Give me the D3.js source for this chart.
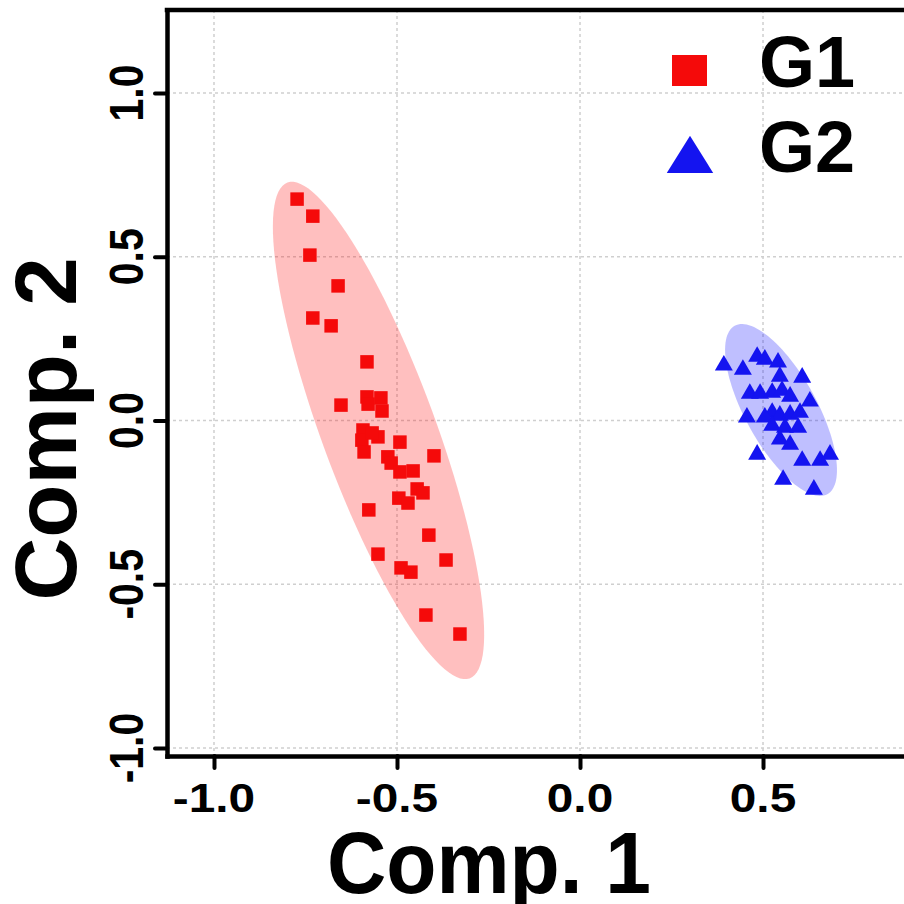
<!DOCTYPE html>
<html><head><meta charset="utf-8">
<script src="https://cdn.jsdelivr.net/npm/d3@7"></script>
<style>html,body{margin:0;padding:0;background:#fff;} svg{display:block;} text{font-family:"Liberation Sans",Arial,sans-serif;font-weight:bold;fill:#000;}</style>
</head><body>
<script>
// ---- data ----
const groups = ["G1", "G2"];
const g1x = [-0.773,-0.730,-0.738,-0.661,-0.730,-0.680,-0.582,-0.653,-0.582,-0.544,-0.579,-0.541,-0.593,-0.552,-0.596,-0.590,-0.492,-0.399,-0.525,-0.516,-0.492,-0.456,-0.445,-0.429,-0.495,-0.470,-0.577,-0.413,-0.552,-0.366,-0.489,-0.462,-0.421,-0.328,-0.568];
const g1y = [0.676,0.624,0.505,0.411,0.313,0.289,0.179,0.047,0.072,0.069,0.050,0.029,-0.029,-0.050,-0.060,-0.096,-0.066,-0.108,-0.111,-0.130,-0.157,-0.154,-0.209,-0.221,-0.237,-0.252,-0.273,-0.350,-0.408,-0.426,-0.450,-0.463,-0.594,-0.652,-0.038];
const g2x = [0.393,0.445,0.484,0.505,0.541,0.546,0.607,0.464,0.492,0.525,0.552,0.574,0.628,0.525,0.456,0.505,0.546,0.574,0.601,0.525,0.560,0.596,0.546,0.574,0.484,0.607,0.656,0.683,0.555,0.639];
const g2y = [0.176,0.163,0.203,0.194,0.185,0.142,0.139,0.090,0.090,0.093,0.099,0.081,0.066,0.032,0.017,0.017,0.023,0.026,0.032,-0.008,-0.014,-0.014,-0.050,-0.066,-0.096,-0.115,-0.115,-0.096,-0.173,-0.203];
// ellipses: center, half major vector, half minor vector (data units)
const ell1 = {cx:-0.5505, cy:-0.0305, ux:0.2489, uy:-0.7570, vx:-0.1462, vy:-0.0602};
const ell2 = {cx:0.5492, cy:0.0321, ux:0.1265, uy:-0.2571, vx:-0.0858, vy:-0.0528};
const xTicks = [-1.0, -0.5, 0.0, 0.5];
const xTickLabels = ["-1.0", "-0.5", "0.0", "0.5"];
const yTicks = [-1.0, -0.5, 0.0, 0.5, 1.0];
const yTickLabels = ["-1.0", "-0.5", "0.0", "0.5", "1.0"];
const xTitle = "Comp. 1", yTitle = "Comp. 2";

// ---- layout ----
const W = 904, H = 904;
const L = 167, R = 904, T = 10, B = 756;
const red = "#f50a0a", blue = "#1414f0";

const svg = d3.select("body").append("svg").attr("width", W).attr("height", H);
const x = d3.scaleLinear().domain([-1.1284, 0.8852]).range([L, R]);
const y = d3.scaleLinear().domain([-1.0244, 1.2534]).range([B, T]);

// grid
const grid = svg.append("g").attr("stroke", "#cfcfcf").attr("stroke-width", 1.5).attr("stroke-dasharray", "3,3");
grid.selectAll("line.v").data(xTicks).join("line").attr("class","v")
  .attr("x1", d => x(d)).attr("x2", d => x(d)).attr("y1", T).attr("y2", B);
grid.selectAll("line.h").data(yTicks).join("line").attr("class","h")
  .attr("y1", d => y(d)).attr("y2", d => y(d)).attr("x1", L).attr("x2", R);

// ellipses
function ellPath(e) {
  const pts = d3.range(0, 121).map(i => {
    const t = i / 120 * 2 * Math.PI;
    return [x(e.cx + e.ux * Math.cos(t) + e.vx * Math.sin(t)), y(e.cy + e.uy * Math.cos(t) + e.vy * Math.sin(t))];
  });
  return d3.line().curve(d3.curveLinearClosed)(pts);
}
svg.append("path").attr("d", ellPath(ell1)).attr("fill", "rgba(255,0,0,0.25)");
svg.append("path").attr("d", ellPath(ell2)).attr("fill", "rgba(0,0,255,0.25)");

// points
const sq = d3.symbol().type(d3.symbolSquare).size(182);
const tri = d3.symbol().type(d3.symbolTriangle).size(140);
svg.append("g").selectAll("path").data(d3.range(g1x.length)).join("path")
  .attr("d", sq).attr("fill", red)
  .attr("transform", i => `translate(${x(g1x[i])},${y(g1y[i])})`);
svg.append("g").selectAll("path").data(d3.range(g2x.length)).join("path")
  .attr("d", tri).attr("fill", blue)
  .attr("transform", i => `translate(${x(g2x[i])},${y(g2y[i]) + 2.5})`);

// axes
const ax = svg.append("g").attr("transform", `translate(0,${B})`)
  .call(d3.axisBottom(x).tickValues(xTicks).tickFormat("").tickSize(12).tickSizeOuter(0));
const ay = svg.append("g").attr("transform", `translate(${L},0)`)
  .call(d3.axisLeft(y).tickValues(yTicks).tickFormat("").tickSize(12).tickSizeOuter(0));
[ax, ay].forEach(g => {
  g.select(".domain").attr("stroke", "#000").attr("stroke-width", 4.5).attr("stroke-linecap", "square");
  g.selectAll(".tick line").attr("stroke", "#000").attr("stroke-width", 4).attr("stroke-linecap", "round");
});
svg.append("line").attr("x1", L).attr("x2", R).attr("y1", T).attr("y2", T)
  .attr("stroke", "#000").attr("stroke-width", 4.5).attr("stroke-linecap", "square");

// tick labels
svg.append("g").selectAll("text").data(xTicks).join("text")
  .attr("text-anchor", "middle").attr("font-size", 40.5)
  .attr("transform", d => `translate(${x(d)},812) scale(1.18,1)`)
  .text((d, i) => xTickLabels[i]);
svg.append("g").selectAll("text").data(yTicks).join("text")
  .attr("text-anchor", "middle").attr("font-size", 41)
  .attr("transform", d => `translate(143,${y(d)}) rotate(-90) scale(1,1.18)`)
  .text((d, i) => yTickLabels[i]);

// axis titles
svg.append("text").attr("x", 489).attr("y", 893).attr("text-anchor", "middle")
  .attr("font-size", 87).attr("textLength", 324).attr("lengthAdjust", "spacingAndGlyphs").text(xTitle);
svg.append("text").attr("transform", "translate(76,429) rotate(-90)").attr("text-anchor", "middle")
  .attr("font-size", 87).text(yTitle);

// legend
const lg = svg.append("g");
lg.append("rect").attr("x", 672).attr("y", 55).attr("width", 35).attr("height", 31).attr("fill", red);
lg.append("path").attr("d", d3.symbol().type(d3.symbolTriangle).size(800)()).attr("fill", blue)
  .attr("transform", "translate(690,160.5) scale(1.08,1)");
lg.append("text").attr("x", 759).attr("y", 87).attr("font-size", 72).text(groups[0]);
lg.append("text").attr("x", 759).attr("y", 172).attr("font-size", 72).text(groups[1]);
</script>
</body></html>
